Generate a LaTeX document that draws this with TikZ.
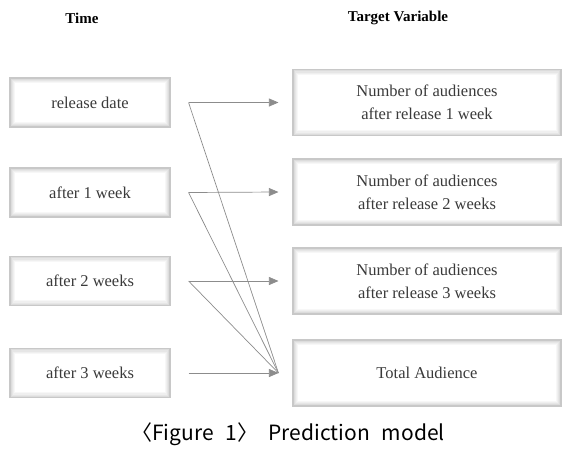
\documentclass[tikz,border=0pt]{standalone}
\usepackage{fontspec}
\setmainfont{Liberation Serif}
\newfontfamily\capfont{Noto Sans CJK KR}
\usetikzlibrary{arrows.meta,calc}
\definecolor{boxline}{HTML}{C8C8C8}
\definecolor{glowA}{HTML}{DCDCDC}
\definecolor{glowB}{HTML}{E6E6E6}
\definecolor{glowC}{HTML}{EFEFEF}
\definecolor{glowD}{HTML}{F7F7F7}
\definecolor{txt}{HTML}{3A3A3A}
\definecolor{conn}{HTML}{8C8C8C}
\tikzset{
  box/.style={draw=boxline, line width=1.1pt, fill=white, inner sep=0pt, align=center,
    text=txt, font=\fontsize{16.5}{23}\selectfont,
    path picture={
      \foreach \k/\c in {1.2/glowA,2.4/glowB,3.6/glowC,4.8/glowD}{
        \draw[line width=1.2pt, color=\c]
          ($(path picture bounding box.south west)+(\k pt,\k pt)$) rectangle
          ($(path picture bounding box.north east)+(-\k pt,-\k pt)$);
      }
    }},
  lbox/.style={box, minimum width=160pt, minimum height=49pt},
  rbox/.style={box, minimum width=268pt, minimum height=66pt},
  head/.style={font=\fontsize{15}{18}\selectfont\bfseries, text=black},
  link/.style={draw=conn, line width=0.7pt},
  arr/.style={link, -{Triangle[length=9.5pt,width=8pt]}}
}
\begin{document}
\begin{tikzpicture}[x=1pt,y=-1pt]
\useasboundingbox (0,0) rectangle (580,474);
\node[head] (h1) at (82,18) {Time};
\node[head] (h2) at (398,18) {Target Variable};
\node[lbox] (l1) at (90,102.5) {release date};
\node[lbox] (l2) at (90,192.5) {after 1 week};
\node[lbox] (l3) at (90,281) {after 2 weeks};
\node[lbox] (l4) at (90,373) {after 3 weeks};
\node[rbox] (r1) at (427,102.5) {Number of audiences\\after release 1 week};
\node[rbox] (r2) at (427,192) {Number of audiences\\after release 2 weeks};
\node[rbox] (r3) at (427,281) {Number of audiences\\after release 3 weeks};
\node[rbox] (r4) at (427,373) {Total Audience};
\foreach \i in {1,2,3,4}{
  \coordinate (s\i) at ($(l\i.east)+(18,0)$);
  \coordinate (t\i) at ($(r\i.west)+(-14,0)$);
}
\draw[arr] (s1) -- (t1);
\draw[arr] (s2) -- (t2);
\draw[arr] (s3) -- (t3);
\draw[arr] (s4) -- (t4);
\draw[link] (s1) -- (t4);
\draw[link] (s2) -- (t4);
\draw[link] (s3) -- (t4);
\node[font=\capfont\fontsize{21}{24}\selectfont, text=black] (cap) at (288,434)
  {〈Figure\hspace{12pt}1〉\hspace{10pt}Prediction\hspace{12pt}model};
\end{tikzpicture}
\end{document}
